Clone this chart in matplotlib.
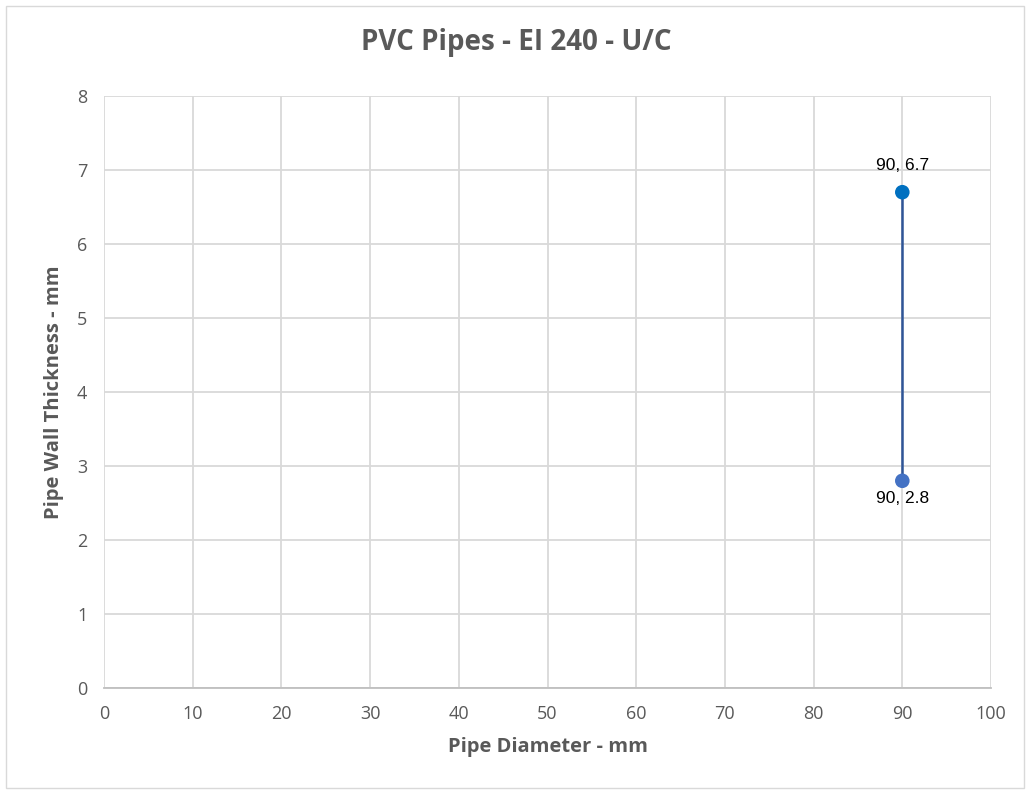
import matplotlib
matplotlib.use("Agg")
import matplotlib.pyplot as plt
from matplotlib.patches import Rectangle

# data
diameter = [90, 90]
thickness = [6.7, 2.8]
point_colors = ["#0070C0", "#4472C4"]
point_labels = ["90, 6.7", "90, 2.8"]

plt.rcParams['font.family'] = ['Open Sans', 'DejaVu Sans']

fig = plt.figure(figsize=(10.3, 7.94), dpi=100)
ax = fig.add_axes([104/1030, 1-688/794, (991-104)/1030, (688-96)/794])

# excel-ish chart border
fig.patches.append(Rectangle((6/1030, 6/794), 1 - 12/1030, 1 - 12/794,
                             transform=fig.transFigure, fill=False,
                             edgecolor="#D9D9D9", lw=1))

ax.plot(diameter, thickness, color="#2F5597", lw=1.8, zorder=3)
for x, y, c in zip(diameter, thickness, point_colors):
    ax.scatter([x], [y], s=110, color=c, zorder=4, edgecolors="none")

ax.annotate(point_labels[0], (diameter[0], thickness[0]), xytext=(0, 14),
            textcoords="offset points", ha="center", va="bottom",
            fontsize=12.5, family="Liberation Sans", color="#000000")
ax.annotate(point_labels[1], (diameter[1], thickness[1]), xytext=(0, -7),
            textcoords="offset points", ha="center", va="top",
            fontsize=12.5, family="Liberation Sans", color="#000000")

ax.set_xlim(0, 100)
ax.set_ylim(0, 8)
ax.set_xticks(range(0, 101, 10))
ax.set_yticks(range(0, 9))
ax.grid(True, color="#D9D9D9", lw=1.3)
ax.set_axisbelow(True)
for s in ["top", "right", "left"]:
    ax.spines[s].set_visible(False)
ax.spines["bottom"].set_color("#BFBFBF")
ax.spines["bottom"].set_linewidth(1.3)
ax.tick_params(length=0, colors="#595959", labelsize=13, pad=12)

ax.set_xlabel("Pipe Diameter - mm", fontsize=14.5, fontweight="bold",
              color="#595959", labelpad=10)
ax.set_ylabel("Pipe Wall Thickness - mm", fontsize=14.5, fontweight="bold",
              color="#595959", labelpad=9)
fig.suptitle("PVC Pipes - EI 240 - U/C", x=516/1030, y=1-28/794,
             fontsize=20, fontweight="bold", color="#595959", va="top")

fig.savefig("out.png", dpi=100)
